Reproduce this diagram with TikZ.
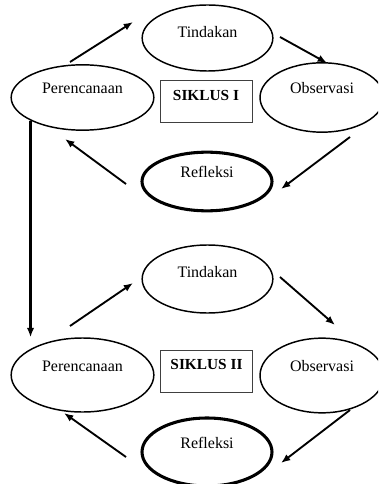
\documentclass[tikz,border=0pt]{standalone}
\usepackage{fontspec}
\setmainfont{Liberation Serif}
\usetikzlibrary{shapes,arrows.meta}

\tikzset{
  oval/.style={ellipse, draw, line width=1.1pt, inner sep=1pt, text height=8pt, text depth=14pt, font=\fontsize{12}{14}\selectfont},
  thickoval/.style={oval, line width=2.3pt},
  siklus/.style={rectangle, draw=black!75, line width=0.75pt, minimum width=69pt, minimum height=31.5pt, text height=8pt, text depth=10pt, font=\fontsize{11.5}{13}\selectfont\bfseries},
  arr/.style={-{Latex[length=7pt,width=5.5pt]}, line width=1.4pt},
}

\begin{document}
\begin{tikzpicture}[x=0.75pt,y=0.75pt,yscale=-1,xscale=1]
        \useasboundingbox (0,0) rectangle (378,484);
        \clip (0,0) rectangle (378,484);

        % Siklus I
        \node[oval, text depth=9pt, minimum width=98pt, minimum height=49.5pt] (tin1) at (207.5,38) {Tindakan};
        \node[oval, minimum width=107pt, minimum height=49pt] (per1) at (82.5,97.5) {Perencanaan};
        \node[oval, minimum width=93pt, minimum height=52pt] (obs1) at (322,97.5) {Observasi};
        \node[thickoval, minimum width=97.5pt, minimum height=44pt] (ref1) at (207,181.5) {Refleksi};
        \node[siklus] (box1) at (206,102) {SIKLUS I};

        % Siklus II
        \node[oval, text depth=11pt, minimum width=98pt, minimum height=51pt] (tin2) at (207.5,279) {Tindakan};
        \node[oval, minimum width=107pt, minimum height=55.5pt] (per2) at (82.5,375) {Perencanaan};
        \node[oval, minimum width=93pt, minimum height=56pt] (obs2) at (322,375.5) {Observasi};
        \node[thickoval, minimum width=97.5pt, minimum height=51pt] (ref2) at (207,452) {Refleksi};
        \node[siklus] (box2) at (206.5,371) {SIKLUS II};

        % arrow ends
        \coordinate (per1-out) at (70,62);   \coordinate (tin1-in) at (133,22);
        \coordinate (tin1-out) at (280,37);  \coordinate (obs1-in) at (327,63);
        \coordinate (obs1-out) at (350,137); \coordinate (ref1-in) at (281,189);
        \coordinate (ref1-out) at (126,184); \coordinate (per1-in) at (65,139);
        \coordinate (per2-out) at (70,326);  \coordinate (tin2-in) at (133,283);
        \coordinate (tin2-out) at (280,277); \coordinate (obs2-in) at (335,325);
        \coordinate (obs2-out) at (350,410); \coordinate (ref2-in) at (281,463);
        \coordinate (ref2-out) at (126,457); \coordinate (per2-in) at (64,413);

        %Straight Lines
        \draw[arr] (per1-out) -- (tin1-in);
        \draw[arr] (tin1-out) -- (obs1-in);
        \draw[arr] (obs1-out) -- (ref1-in);
        \draw[arr] (ref1-out) -- (per1-in);
        \draw[arr, line width=1.7pt] (per1.204) -- (per1.204 |- per2.north);
        \draw[arr] (per2-out) -- (tin2-in);
        \draw[arr] (tin2-out) -- (obs2-in);
        \draw[arr] (obs2-out) -- (ref2-in);
        \draw[arr] (ref2-out) -- (per2-in);

\end{tikzpicture}
\end{document}
